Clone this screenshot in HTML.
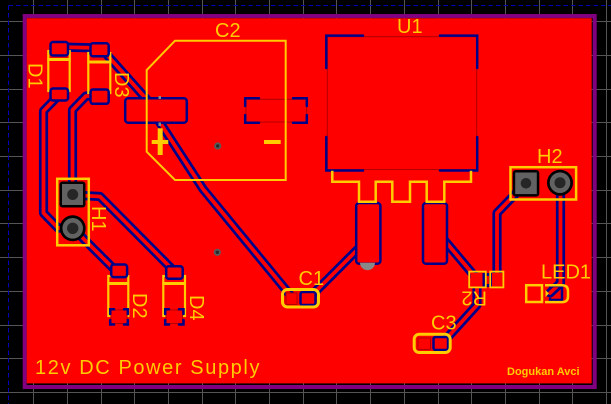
<!DOCTYPE html>
<html><head><meta charset="utf-8"><style>
html,body{margin:0;padding:0;background:#000;}
svg{display:block}
text{font-family:"Liberation Sans",sans-serif;fill:#ffcc00}
</style></head><body>
<svg width="611" height="404" viewBox="0 0 611 404" xmlns="http://www.w3.org/2000/svg">
<rect width="611" height="404" fill="#000"/>
<g stroke="#555" stroke-width="1">
<line x1="33.5" y1="0" x2="33.5" y2="404"/><line x1="67.5" y1="0" x2="67.5" y2="404"/><line x1="101.5" y1="0" x2="101.5" y2="404"/><line x1="134.5" y1="0" x2="134.5" y2="404"/><line x1="168.5" y1="0" x2="168.5" y2="404"/><line x1="202.5" y1="0" x2="202.5" y2="404"/><line x1="235.5" y1="0" x2="235.5" y2="404"/><line x1="269.5" y1="0" x2="269.5" y2="404"/><line x1="303.5" y1="0" x2="303.5" y2="404"/><line x1="336.5" y1="0" x2="336.5" y2="404"/><line x1="370.5" y1="0" x2="370.5" y2="404"/><line x1="404.5" y1="0" x2="404.5" y2="404"/><line x1="438.5" y1="0" x2="438.5" y2="404"/><line x1="471.5" y1="0" x2="471.5" y2="404"/><line x1="505.5" y1="0" x2="505.5" y2="404"/><line x1="539.5" y1="0" x2="539.5" y2="404"/><line x1="572.5" y1="0" x2="572.5" y2="404"/><line x1="606.5" y1="0" x2="606.5" y2="404"/>
<line x1="0" y1="21.5" x2="611" y2="21.5"/><line x1="0" y1="55.5" x2="611" y2="55.5"/><line x1="0" y1="89.5" x2="611" y2="89.5"/><line x1="0" y1="122.5" x2="611" y2="122.5"/><line x1="0" y1="156.5" x2="611" y2="156.5"/><line x1="0" y1="190.5" x2="611" y2="190.5"/><line x1="0" y1="223.5" x2="611" y2="223.5"/><line x1="0" y1="257.5" x2="611" y2="257.5"/><line x1="0" y1="291.5" x2="611" y2="291.5"/><line x1="0" y1="325.5" x2="611" y2="325.5"/><line x1="0" y1="358.5" x2="611" y2="358.5"/><line x1="0" y1="392.5" x2="611" y2="392.5"/>
</g>
<g stroke="#0000b4" stroke-width="1" stroke-dasharray="4.5 3">
<line x1="8.5" y1="5.5" x2="611" y2="5.5"/>
<line x1="8.5" y1="5.5" x2="8.5" y2="404"/>
</g>
<rect x="24.7" y="16" width="570" height="371" fill="none" stroke="#800080" stroke-width="4"/>
<rect x="26.7" y="18.2" width="565" height="365.2" fill="#ff0000"/>

<!-- traces -->
<g fill="none" stroke="#000088" stroke-width="9.2" stroke-linejoin="round" stroke-linecap="round">
<polyline points="59,47 99,48"/>
<polyline points="100,47 150,103"/>
<polyline points="157,118 203,189 291,296"/>
<polyline points="310,297 362,245"/>
<polyline points="59,95 43.5,111 43.5,213 58,228 72.7,228"/>
<polyline points="72.7,228 113,268 119,271"/>
<polyline points="99,96 86,96 72.5,110 72.5,195"/>
<polyline points="72.7,195 100,196.5 171,268"/>
<polyline points="440,235 477,279"/>
<polyline points="477,280 477,305 447,338"/>
<polyline points="497,280 497,213 526,183"/>
<polyline points="560.5,183 560.5,283 550,293"/>
</g>
<g fill="none" stroke="#ff0000" stroke-width="3.8" stroke-linejoin="round" stroke-linecap="round">
<polyline points="59,47 99,48"/>
<polyline points="100,47 150,103"/>
<polyline points="157,118 203,189 291,296"/>
<polyline points="310,297 362,245"/>
<polyline points="59,95 43.5,111 43.5,213 58,228 72.7,228"/>
<polyline points="72.7,228 113,268 119,271"/>
<polyline points="99,96 86,96 72.5,110 72.5,195"/>
<polyline points="72.7,195 100,196.5 171,268"/>
<polyline points="440,235 477,279"/>
<polyline points="477,280 477,305 447,338"/>
<polyline points="497,280 497,213 526,183"/>
<polyline points="560.5,183 560.5,283 550,293"/>
</g>

<!-- diode silkscreen (under pads) -->
<g fill="none" stroke="#ffcc00" stroke-width="2.2">
<rect x="48.3" y="51" width="21.4" height="40"/>
<rect x="88.3" y="53" width="22" height="40"/>
<rect x="108.3" y="276" width="20" height="40"/>
<rect x="163.3" y="276" width="21.7" height="40"/>
</g>
<g stroke="#ffcc00" stroke-width="3">
<line x1="47.3" y1="59.5" x2="70.7" y2="59.5"/>
<line x1="87.3" y1="62" x2="111.3" y2="62"/>
<line x1="107.3" y1="283.5" x2="129.3" y2="283.5"/>
<line x1="162.3" y1="283.5" x2="186" y2="283.5"/>
</g>

<!-- pads -->
<g fill="#ff0000" stroke="#000088" stroke-width="2.5">
<rect x="50.5" y="42" width="17.5" height="13.5" rx="2.5"/>
<rect x="50.5" y="88.5" width="17.5" height="12" rx="2.5"/>
<rect x="90.5" y="43.2" width="18.2" height="13" rx="2.5"/>
<rect x="90.5" y="89.5" width="18.2" height="14.3" rx="2.5"/>
<rect x="111.2" y="264.5" width="15.9" height="12.6" rx="2.5"/>
<rect x="166.2" y="266.2" width="16.5" height="12.5" rx="2.5"/>
<rect x="125.2" y="98.2" width="61.6" height="24.6" rx="3"/>
<rect x="356.2" y="203" width="24.2" height="60.8" rx="3"/>
<rect x="423" y="203" width="24" height="60.8" rx="3"/>
<rect x="300.5" y="292" width="15" height="13" rx="2"/>
<rect x="433.5" y="337" width="14.5" height="13" rx="2"/>
</g>
<!-- bracket pads -->
<g fill="#ff0000" stroke="#b00000" stroke-width="1">
<rect x="111" y="310" width="16" height="13.5"/>
<rect x="166" y="310" width="16.5" height="13.5"/>
<rect x="246" y="99.3" width="60.7" height="22.7"/>
<rect x="286" y="293" width="11" height="11.5"/>
<rect x="418" y="338" width="12.5" height="11.5"/>
<rect x="327.3" y="36.7" width="149.4" height="132.8"/>
</g>
<g fill="none" stroke="#000088" stroke-width="2.5" stroke-linecap="round">
<path d="M110.2 314V309.2H114M124 309.2H127.8V314M110.2 320V324.5H114M124 324.5H127.8V320"/>
<path d="M165.2 314V309.2H169M179 309.2H183.5V314M165.2 320V324.5H169M179 324.5H183.5V320"/>
<path d="M245.2 106V98.2H259M293 98.2H306.8V106M245.2 115V122.8H259M293 122.8H306.8V115"/>
<path d="M326.3 68V35.6H363M440 35.6H477.2V68M326.3 137V170.5H363M440 170.5H477.2V137"/>
<path d="M550 287V286H562V300H550V299"/>
</g>
<rect x="158.5" y="96" width="2.5" height="3" fill="#888"/>
<rect x="158.5" y="122.5" width="2.5" height="3.5" fill="#888"/>
<path d="M360 262.7A7.5 7.5 0 0 0 375 262.7Z" fill="#888"/>

<!-- R2 -->
<rect x="470.5" y="273" width="12.5" height="13.5" fill="#ff0000"/>
<rect x="482.5" y="273" width="10.5" height="14" fill="#000088"/>
<rect x="486.5" y="276" width="2.5" height="8" fill="#ff0000"/>
<rect x="492" y="273" width="10.5" height="13.5" fill="#ff0000"/>
<!-- LED pads -->
<rect x="527.5" y="286.5" width="13.5" height="14.5" fill="#ff0000"/>

<!-- vias -->
<circle cx="217.7" cy="146" r="3.6" fill="#5a5a5a"/><circle cx="217.7" cy="146" r="1.7" fill="#2a2a2a"/>
<circle cx="217.3" cy="252.3" r="3.6" fill="#5a5a5a"/><circle cx="217.3" cy="252.3" r="1.7" fill="#2a2a2a"/>

<!-- silkscreen -->
<g fill="none" stroke="#ffcc00" stroke-width="2">
<polygon points="175,40.7 285.7,40.7 285.7,180 175,180 146.7,151.7 146.7,70"/>
</g>
<g fill="none" stroke="#ffcc00" stroke-width="2.5">
<path d="M332.3 170.7V181.7H359V201.7H375.7V181.7H392.3V201.7H410V181.7H426.7V201.7H444.3V181.7H471V170.7"/>
<rect x="57.2" y="178.8" width="31.6" height="66.5"/>
<rect x="510.5" y="167.2" width="65.6" height="32.3"/>
<rect x="282.5" y="289.5" width="36" height="17.5" rx="5" stroke-width="3"/>
<rect x="414.2" y="334.2" width="36" height="18.3" rx="5" stroke-width="3"/>
<rect x="526.2" y="285.2" width="15.8" height="16.8"/>
<path d="M545 285.2H562Q568 285.2 568 291V296.5Q568 302.1 562 302.1H545"/>
</g>
<g fill="none" stroke="#ffcc00" stroke-width="1.8">
<rect x="469.2" y="271.6" width="16.6" height="15.8"/>
<rect x="490.2" y="271.6" width="13.2" height="15.8"/>
</g>
<polygon points="545.5,290 549,293.5 545.5,297" fill="#ffcc00"/>
<g fill="#ffcc00">
<rect x="157.7" y="128.3" width="5" height="26.7"/>
<rect x="151.7" y="140" width="16.6" height="4"/>
<rect x="264" y="140" width="16.7" height="4"/>
</g>

<!-- through-hole pins -->
<rect x="59.5" y="181.5" width="26" height="26" rx="3" fill="#000"/>
<rect x="62" y="184" width="21" height="21" fill="#626262"/>
<circle cx="72.7" cy="194.5" r="5.5" fill="#262626"/>
<circle cx="72.7" cy="228.3" r="13" fill="#000"/>
<circle cx="72.7" cy="228.3" r="10.3" fill="#626262"/>
<circle cx="72.7" cy="228.3" r="5.7" fill="#262626"/>
<rect x="512.7" y="170" width="26.6" height="26.6" rx="3" fill="#000"/>
<rect x="515.2" y="172.5" width="21.6" height="21.6" fill="#626262"/>
<circle cx="526" cy="183.3" r="5.3" fill="#262626"/>
<circle cx="560" cy="182.7" r="13" fill="#000"/>
<circle cx="560" cy="182.7" r="10.3" fill="#626262"/>
<circle cx="560" cy="182.7" r="5.5" fill="#262626"/>

<!-- labels -->
<g font-size="20">
<text x="215" y="37">C2</text>
<text x="397" y="33">U1</text>
<text x="298.5" y="285">C1</text>
<text x="431" y="329.5">C3</text>
<text x="537" y="163">H2</text>
<text x="541" y="278.5">LED1</text>
<text transform="translate(28.5,63) rotate(90)">D1</text>
<text transform="translate(115,72) rotate(90)">D3</text>
<text transform="translate(92,206) rotate(90)">H1</text>
<text transform="translate(133,293) rotate(90)">D2</text>
<text transform="translate(190,295) rotate(90)">D4</text>
<text transform="translate(487,291.5) rotate(180)">R2</text>
<text x="35" y="374" letter-spacing="1.6">12v DC Power Supply</text>
</g>
<text x="507" y="375" font-size="11" font-weight="bold">Dogukan Avci</text>
</svg>
</body></html>
